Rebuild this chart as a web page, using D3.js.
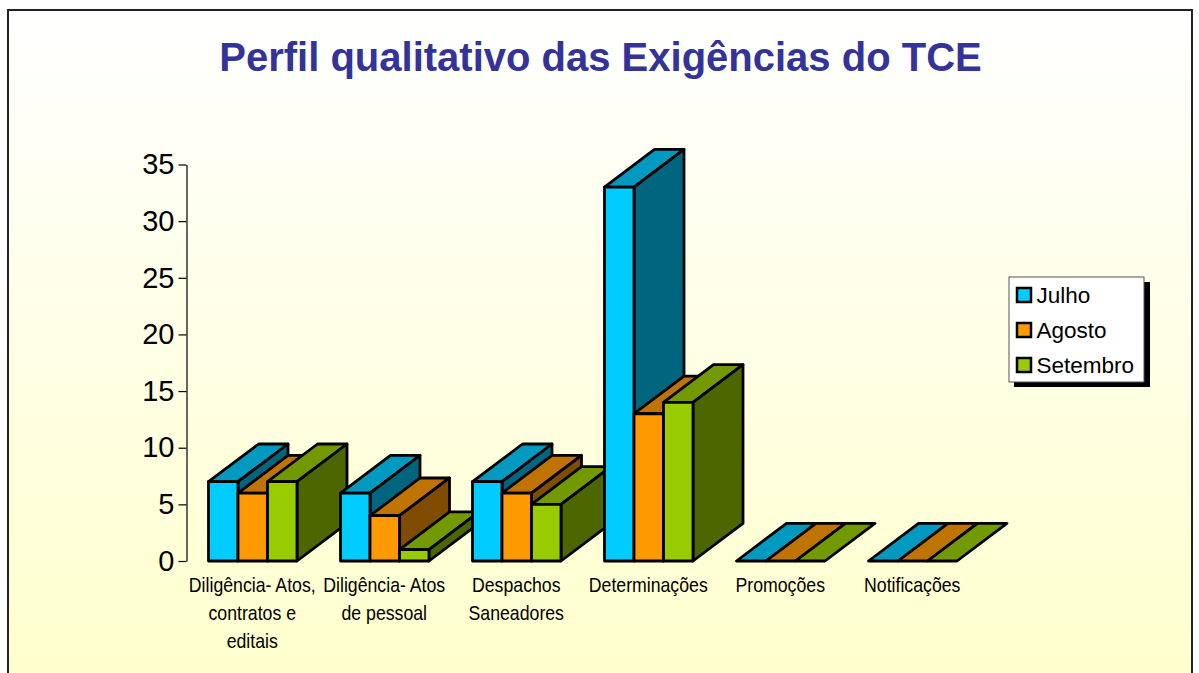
<!DOCTYPE html>
<html>
<head>
<meta charset="utf-8">
<style>
html, body { margin: 0; padding: 0; background: #fff; overflow: hidden; }
svg { display: block; }
text { font-family: "Liberation Sans", Arial, sans-serif; }
</style>
<script src="https://cdnjs.cloudflare.com/ajax/libs/d3/7.8.5/d3.min.js"></script>
</head>
<body>
<svg id="chart" width="1199" height="673"></svg>
<script>
const categories = ["Diligência- Atos, contratos e editais", "Diligência- Atos de pessoal", "Despachos Saneadores", "Determinações", "Promoções", "Notificações"];
const categoryLines = [
    ["Diligência- Atos,", "contratos e", "editais"],
    ["Diligência- Atos", "de pessoal"],
    ["Despachos", "Saneadores"],
    ["Determinações"],
    ["Promoções"],
    ["Notificações"],
];
const seriesNames = ["Julho", "Agosto", "Setembro"];
const julho = [7, 6, 7, 33, 0, 0];
const agosto = [6, 4, 6, 13, 0, 0];
const setembro = [7, 1, 5, 14, 0, 0];
const yTicks = [0, 5, 10, 15, 20, 25, 30, 35];
const titleText = "Perfil qualitativo das Exigências do TCE";

const seriesValues = [julho, agosto, setembro];
const frontColors = ["#00ccff", "#ff9900", "#99cc00"];
const topColors = ["#0099bf", "#bf7300", "#739900"];
const sideColors = ["#006680", "#804d00", "#4d6600"];

// 3D offset of the bars
const depth = { x: 50, y: -37.7 };

let svg = d3.select("#chart");

let gradient = svg.append("defs").append("linearGradient")
    .attr("id", "bg").attr("x1", 0).attr("y1", 0).attr("x2", 0).attr("y2", 1);
gradient.append("stop").attr("offset", "0%").attr("stop-color", "#ffffff");
gradient.append("stop").attr("offset", "100%").attr("stop-color", "#ffffcc");

svg.append("rect")
    .attr("x", 8).attr("y", 10).attr("width", 1184).attr("height", 680)
    .attr("fill", "url(#bg)")
    .attr("stroke", "#222").attr("stroke-width", 2);

svg.append("text")
    .attr("x", 600.5).attr("y", 71)
    .attr("text-anchor", "middle")
    .attr("font-size", 40).attr("font-weight", "bold")
    .attr("fill", "#333399")
    .text(titleText);

let x0 = d3.scaleBand().domain(categories).range([186.5, 978.5]);
let x1 = d3.scaleBand().domain(seriesNames).range([22, 110.5]);
let y = d3.scaleLinear().domain([0, 35]).range([561, 164.5]);

let yAxis = svg.append("g")
    .attr("transform", "translate(186.5,0)")
    .call(d3.axisLeft(y).tickValues(yTicks).tickSize(8).tickPadding(4).tickSizeOuter(0));
yAxis.selectAll("text").attr("font-size", 29).attr("fill", "#000")
    .style("font-family", '"Liberation Sans", Arial, sans-serif');
yAxis.selectAll("line, path").attr("stroke", "#000").attr("stroke-width", 1.2);

// painter's order, left to right
categories.forEach((cat, c) => {
    seriesNames.forEach((name, s) => {
        let v = seriesValues[s][c];
        let left = x0(cat) + x1(name);
        let right = left + x1.bandwidth();
        let top = y(v);
        let base = y(0);
        let g = svg.append("g")
            .attr("stroke", "#000").attr("stroke-width", 2.8)
            .attr("stroke-linejoin", "round");

        // top face
        g.append("path")
            .attr("d", d3.line()([[left, top], [right, top], [right + depth.x, top + depth.y], [left + depth.x, top + depth.y]]) + "Z")
            .attr("fill", topColors[s]);
        if (v > 0) {
            // side face
            g.append("path")
                .attr("d", d3.line()([[right, top], [right + depth.x, top + depth.y], [right + depth.x, base + depth.y], [right, base]]) + "Z")
                .attr("fill", sideColors[s]);
            // front face
            g.append("rect")
                .attr("x", left).attr("y", top)
                .attr("width", x1.bandwidth()).attr("height", base - top)
                .attr("fill", frontColors[s]);
        }
    });
});

// category labels, condensed like the original
categories.forEach((cat, c) => {
    let cx = x0(cat) + (x1.range()[0] + x1.range()[1]) / 2 - 0.5;
    categoryLines[c].forEach((line, i) => {
        svg.append("text")
            .attr("text-anchor", "middle")
            .attr("transform", `translate(${cx},${592 + i * 28}) scale(0.885,1)`)
            .attr("font-size", 20)
            .attr("fill", "#000")
            .text(line);
    });
});

// legend
let legend = svg.append("g");
legend.append("rect").attr("x", 1014).attr("y", 282).attr("width", 136).attr("height", 105).attr("fill", "#000");
legend.append("rect").attr("x", 1009).attr("y", 277).attr("width", 135).attr("height", 105)
    .attr("fill", "#fff").attr("stroke", "#555").attr("stroke-width", 1);

let legendY = d3.scalePoint().domain(seriesNames).range([295, 365]);
seriesNames.forEach((name, s) => {
    legend.append("rect")
        .attr("x", 1017).attr("y", legendY(name) - 7)
        .attr("width", 14).attr("height", 14)
        .attr("fill", frontColors[s])
        .attr("stroke", "#000").attr("stroke-width", 2.5);
    legend.append("text")
        .attr("x", 1036.5).attr("y", legendY(name) + 7.5)
        .attr("font-size", 22.5)
        .attr("fill", "#000")
        .text(name);
});
</script>
</body>
</html>
